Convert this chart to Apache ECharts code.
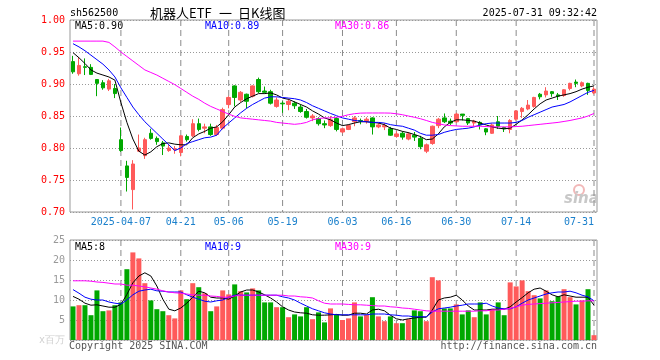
<!DOCTYPE html>
<html><head><meta charset="utf-8">
<script src="https://cdn.jsdelivr.net/npm/echarts@6/dist/echarts.min.js"></script>
<style>html,body{margin:0;padding:0;background:#fff}#c{width:660px;height:360px}</style>
</head><body><div id="c"></div>
<script>
const dates = ['2025-03-25','2025-03-26','2025-03-27','2025-03-28','2025-03-31','2025-04-01','2025-04-02','2025-04-03',
'2025-04-07','2025-04-08','2025-04-09','2025-04-10','2025-04-11','2025-04-14','2025-04-15','2025-04-16','2025-04-17','2025-04-18','2025-04-21',
'2025-04-22','2025-04-23','2025-04-24','2025-04-25','2025-04-28','2025-04-29','2025-04-30','2025-05-06',
'2025-05-07','2025-05-08','2025-05-09','2025-05-12','2025-05-13','2025-05-14','2025-05-15','2025-05-16','2025-05-19',
'2025-05-20','2025-05-21','2025-05-22','2025-05-23','2025-05-26','2025-05-27','2025-05-28','2025-05-29','2025-05-30','2025-06-03',
'2025-06-04','2025-06-05','2025-06-06','2025-06-09','2025-06-10','2025-06-11','2025-06-12','2025-06-13','2025-06-16',
'2025-06-17','2025-06-18','2025-06-19','2025-06-20','2025-06-23','2025-06-24','2025-06-25','2025-06-26','2025-06-27','2025-06-30',
'2025-07-01','2025-07-02','2025-07-03','2025-07-04','2025-07-07','2025-07-08','2025-07-09','2025-07-10','2025-07-11','2025-07-14',
'2025-07-15','2025-07-16','2025-07-17','2025-07-18','2025-07-21','2025-07-22','2025-07-23','2025-07-24','2025-07-25','2025-07-28','2025-07-29','2025-07-30','2025-07-31'];

const opens = [0.935,0.916,0.927,0.926,0.907,0.902,0.892,0.893,0.813,0.772,
0.735,0.795,0.788,0.823,0.815,0.808,0.796,0.797,0.793,0.818,
0.819,0.838,0.831,0.833,0.821,0.831,0.868,0.897,0.875,0.884,
0.881,0.907,0.889,0.888,0.865,0.870,0.868,0.870,0.864,0.857,
0.847,0.846,0.838,0.835,0.846,0.825,0.829,0.841,0.843,0.842,
0.847,0.833,0.833,0.830,0.818,0.823,0.814,0.820,0.815,0.795,
0.807,0.835,0.847,0.842,0.841,0.853,0.846,0.839,0.840,0.830,
0.823,0.841,0.832,0.829,0.845,0.857,0.861,0.865,0.884,0.883,
0.888,0.883,0.882,0.893,0.903,0.897,0.901,0.886];
const closes = [0.919,0.929,0.926,0.915,0.901,0.894,0.905,0.885,0.796,0.754,
0.775,0.800,0.813,0.815,0.810,0.803,0.800,0.799,0.819,0.813,
0.838,0.829,0.833,0.821,0.832,0.860,0.879,0.879,0.887,0.873,
0.897,0.888,0.887,0.870,0.875,0.869,0.873,0.866,0.857,0.848,
0.850,0.838,0.836,0.844,0.829,0.830,0.835,0.847,0.842,0.845,
0.833,0.836,0.835,0.820,0.822,0.817,0.822,0.817,0.802,0.805,
0.834,0.845,0.841,0.839,0.853,0.851,0.839,0.842,0.836,0.825,
0.836,0.834,0.830,0.843,0.858,0.862,0.867,0.879,0.880,0.889,
0.885,0.881,0.891,0.901,0.901,0.902,0.890,0.892];
const lows = [0.916,0.913,0.914,0.914,0.881,0.891,0.889,0.878,0.794,0.732,
0.704,0.794,0.783,0.813,0.805,0.789,0.794,0.791,0.787,0.810,
0.817,0.826,0.823,0.819,0.819,0.829,0.862,0.865,0.872,0.862,
0.879,0.886,0.885,0.868,0.863,0.855,0.859,0.861,0.855,0.846,
0.842,0.835,0.831,0.833,0.826,0.823,0.828,0.834,0.837,0.838,
0.821,0.831,0.828,0.819,0.816,0.813,0.812,0.811,0.798,0.792,
0.805,0.831,0.839,0.836,0.839,0.843,0.836,0.834,0.829,0.820,
0.822,0.830,0.825,0.823,0.843,0.847,0.859,0.863,0.876,0.879,
0.880,0.875,0.880,0.890,0.895,0.895,0.883,0.884];
const highs = [0.944,0.942,0.940,0.931,0.907,0.906,0.908,0.900,0.832,0.780,
0.781,0.821,0.816,0.830,0.818,0.811,0.806,0.803,0.820,0.821,
0.845,0.846,0.838,0.838,0.836,0.863,0.881,0.898,0.889,0.885,
0.898,0.910,0.896,0.891,0.879,0.873,0.877,0.873,0.868,0.861,
0.853,0.848,0.843,0.850,0.848,0.832,0.837,0.850,0.846,0.848,
0.848,0.839,0.839,0.833,0.826,0.826,0.825,0.825,0.819,0.807,
0.835,0.847,0.854,0.846,0.855,0.853,0.847,0.844,0.842,0.831,
0.838,0.850,0.833,0.845,0.859,0.864,0.875,0.880,0.886,0.895,
0.889,0.886,0.892,0.902,0.907,0.904,0.902,0.895];

const ma5 = [0.949,0.941,0.932,0.922,0.917,0.914,0.911,0.906,0.871,0.840,
0.814,0.795,0.789,0.794,0.802,0.807,0.808,0.806,0.805,0.805,
0.816,0.822,0.826,0.831,0.833,0.841,0.852,0.864,0.871,0.877,
0.881,0.885,0.885,0.886,0.883,0.878,0.876,0.872,0.868,0.864,
0.858,0.853,0.847,0.844,0.839,0.835,0.8365,0.839,0.841,0.841,
0.840,0.839,0.8365,0.831,0.829,0.826,0.824,0.821,0.818,0.813,
0.814,0.822,0.833,0.840,0.844,0.844,0.843,0.842,0.839,0.836,
0.833,0.831,0.830,0.831,0.837,0.844,0.852,0.861,0.869,0.875,
0.878,0.881,0.883,0.885,0.888,0.892,0.895,0.897];
const ma10 = [0.963,0.958,0.952,0.945,0.938,0.931,0.922,0.911,0.894,0.879,
0.864,0.852,0.841,0.832,0.823,0.814,0.805,0.796,0.800,0.807,
0.810,0.813,0.816,0.817,0.820,0.831,0.839,0.847,0.855,0.862,
0.868,0.873,0.878,0.880,0.880,0.879,0.878,0.877,0.875,0.871,
0.866,0.862,0.858,0.854,0.8505,0.847,0.845,0.843,0.842,0.841,
0.840,0.840,0.839,0.8365,0.835,0.834,0.831,0.828,0.823,0.820,
0.820,0.821,0.8245,0.827,0.829,0.830,0.831,0.833,0.836,0.838,
0.839,0.839,0.839,0.839,0.840,0.843,0.848,0.852,0.856,0.860,
0.864,0.866,0.868,0.872,0.877,0.882,0.887,0.890];
const ma30 = [0.967,0.967,0.967,0.967,0.967,0.967,0.965,0.958,0.950,0.943,
0.936,0.929,0.922,0.918,0.914,0.909,0.904,0.899,0.893,0.887,
0.881,0.876,0.870,0.865,0.861,0.857,0.853,0.8495,0.847,0.846,
0.845,0.844,0.843,0.842,0.840,0.839,0.838,0.837,0.838,0.840,
0.844,0.846,0.847,0.847,0.848,0.8495,0.852,0.8536,0.8545,0.8547,
0.8547,0.8547,0.8547,0.8545,0.8535,0.852,0.850,0.848,0.8458,0.843,
0.840,0.838,0.836,0.835,0.8345,0.834,0.834,0.834,0.834,0.8335,
0.833,0.833,0.833,0.833,0.8335,0.834,0.835,0.836,0.837,0.838,
0.839,0.840,0.8415,0.843,0.845,0.847,0.850,0.854];

const volumes = [8.4,8.7,8.7,6.2,12.4,7.2,7.4,8.7,9.4,17.7,
21.9,20.4,14.2,9.9,7.7,7.2,6.2,5.4,12.4,10.2,
14.2,13.2,11.7,7.2,8.4,12.4,11.4,13.9,12.2,11.9,
12.9,12.4,9.4,9.4,8.2,8.2,5.7,6.4,5.9,8.2,
5.2,6.9,4.4,7.9,6.4,5.0,5.4,9.4,5.9,6.25,
10.7,5.9,4.7,5.9,4.2,4.2,5.2,7.4,7.2,4.7,
15.7,14.9,7.9,7.9,8.9,6.4,7.4,5.7,9.4,6.4,
7.7,9.4,6.2,14.4,13.4,14.9,12.2,11.2,10.4,12.4,
9.7,10.9,12.7,10.7,8.9,9.9,12.7,1.2];
const volMa5 = [10.9,10.2,9.2,8.7,8.8,8.5,8.2,8.2,8.9,11.4,
14.3,16.0,16.8,16.0,13.5,10.2,7.7,7.3,8.0,9.2,
10.7,12.2,11.8,10.7,10.5,10.5,10.2,11.0,12.0,12.5,
12.5,12.0,11.3,10.5,9.5,8.3,7.5,7.0,6.8,6.7,
6.3,6.2,6.2,6.3,6.4,6.2,6.2,6.7,6.7,6.5,
7.5,7.7,7.3,6.2,5.3,5.0,5.3,5.5,5.7,5.7,
7.5,10.0,10.5,10.7,11.2,10.0,8.5,7.5,7.5,7.5,
7.7,7.7,7.7,8.3,9.5,10.6,11.8,12.7,13.0,12.2,
11.3,10.8,11.3,11.0,10.7,10.7,10.7,8.7];
const volMa10 = [12.6,11.7,10.7,10.2,10.0,10.0,9.5,9.2,9.0,10.0,
11.3,12.2,12.5,12.7,12.3,12.2,12.0,12.0,12.0,11.3,
10.7,10.2,9.7,9.5,9.8,10.0,10.7,11.2,11.2,11.2,
11.2,11.2,11.2,11.2,11.2,10.8,10.5,10.0,9.2,8.5,
7.8,7.3,6.8,6.5,6.3,6.3,6.3,6.3,6.3,6.3,
6.5,6.5,6.5,6.3,6.2,6.0,6.0,5.8,5.8,5.8,
7.0,7.8,8.0,8.2,8.5,8.7,9.0,9.0,9.0,9.2,
8.5,8.0,7.8,7.8,8.3,9.2,10.0,10.5,11.0,11.5,
11.8,12.0,12.0,12.2,11.8,11.2,10.8,9.8];
const volMa30 = [14.8,14.8,14.8,14.7,14.5,14.4,14.2,14.0,14.0,13.7,
13.7,13.5,13.3,13.0,12.7,12.3,12.0,11.8,11.7,11.5,
11.3,11.2,11.2,11.0,10.9,10.7,10.7,11.0,11.2,11.2,
11.2,11.2,11.2,11.2,11.2,11.2,11.0,11.0,10.8,10.7,
10.5,9.8,9.2,9.0,9.0,9.0,8.9,8.8,8.8,8.7,
8.6,8.5,8.5,8.3,8.2,8.0,7.9,7.7,7.5,7.3,
7.2,7.2,7.2,7.2,7.2,7.2,7.2,7.2,7.3,7.3,
7.5,7.5,7.7,7.9,8.3,8.7,8.9,9.0,9.1,9.2,
9.3,9.4,9.5,9.6,9.7,9.7,9.8,9.8];

const labelIdx = [8,18,26,35,45,54,64,74,87];
const priceMin = 0.70, priceMax = 1.00, priceStep = 0.05;
const volMin = 0, volMax = 25, volStep = 5;

const RED = '#ff5a5a', GREEN = '#00a800';
const MONO = "'DejaVu Sans Mono', monospace";
const FONT = '10px ' + MONO;

const chart = echarts.init(document.getElementById('c'), null, {renderer: 'canvas'});
const lineSeries = (name, data, color, xi, yi) => ({
  name, type: 'line', data, xAxisIndex: xi, yAxisIndex: yi, showSymbol: false, symbol: 'none',
  lineStyle: {color, width: 1}, silent: true, z: 5
});
function txt(x, y, text, color, align) {
  return {type: 'text', x, y, silent: true,
    style: {text, fill: color, font: FONT, textAlign: align || 'left', textVerticalAlign: 'middle'}};
}
function dashFill(h) {
  const stops = [];
  for (let y = 0; y < h; y += 10) {
    const a = y / h, b = Math.min(1, (y + 6) / h), c = Math.min(1, (y + 10) / h);
    stops.push({offset: a, color: '#8a8a8a'}, {offset: b, color: '#8a8a8a'},
               {offset: b, color: 'rgba(255,255,255,0)'}, {offset: c, color: 'rgba(255,255,255,0)'});
  }
  return new echarts.graphic.LinearGradient(0, 0, 0, 1, stops);
}
function dateGridBars(xi, yi, top, h) {
  return {type: 'bar', xAxisIndex: xi, yAxisIndex: yi, barWidth: 1, silent: true, z: 1,
    data: dates.map((d, i) => labelIdx.indexOf(i) >= 0 ? top : '-'),
    itemStyle: {color: dashFill(h)}};
}
const hiddenCat = (gridIndex) => ({type: 'category', gridIndex, data: dates, boundaryGap: true, show: false});

chart.setOption({
  animation: false,
  backgroundColor: '#fff',
  grid: [
    {left: 70, right: 63, top: 20, height: 192, show: true, borderColor: '#999', borderWidth: 1},
    {left: 70, right: 63, top: 240, height: 100, show: true, borderColor: '#999', borderWidth: 1}
  ],
  xAxis: [
    {type: 'category', gridIndex: 0, data: dates, boundaryGap: true,
     axisLine: {show: false}, axisTick: {show: false}, splitLine: {show: false},
     axisLabel: {show: true, color: '#1b80cc', fontFamily: MONO, fontSize: 10, margin: 5,
       interval: (idx) => labelIdx.indexOf(idx) >= 0,
       alignMaxLabel: 'right',
       formatter: (v, idx) => idx === labelIdx[0] ? v : v.slice(5)}},
    {type: 'category', gridIndex: 1, data: dates, boundaryGap: true,
     axisLine: {show: false}, axisTick: {show: false}, axisLabel: {show: false}, splitLine: {show: false}},
    hiddenCat(0),
    hiddenCat(1)
  ],
  yAxis: [
    {type: 'value', gridIndex: 0, min: priceMin, max: priceMax, interval: priceStep, scale: true,
     axisLine: {show: false}, axisTick: {show: false},
     axisLabel: {color: '#ff0000', fontFamily: MONO, fontSize: 10, margin: 5, formatter: v => v.toFixed(2)},
     splitLine: {show: true, lineStyle: {type: [1,2], color: '#999', width: 1}}},
    {type: 'value', gridIndex: 1, min: volMin, max: volMax, interval: volStep,
     axisLine: {show: false}, axisTick: {show: false},
     axisLabel: {color: '#999', fontFamily: MONO, fontSize: 10, margin: 5,
       formatter: v => v === 0 ? '{u|x百万}' : String(v),
       rich: {u: {color: '#d0d0d0', fontSize: 10, fontFamily: MONO}}},
     splitLine: {show: true, lineStyle: {type: [1,2], color: '#999', width: 1}}}
  ],
  series: [
    dateGridBars(2, 0, priceMax, 192),
    dateGridBars(3, 1, volMax, 100),
    {type: 'candlestick', xAxisIndex: 0, yAxisIndex: 0, barWidth: 4,
     data: dates.map((d, i) => [opens[i], closes[i], lows[i], highs[i]]),
     itemStyle: {color: RED, color0: GREEN, borderColor: RED, borderColor0: GREEN, borderWidth: 1}, z: 3},
    lineSeries('MA5', ma5, '#000000', 0, 0),
    lineSeries('MA10', ma10, '#0000ff', 0, 0),
    lineSeries('MA30', ma30, '#ff00ff', 0, 0),
    {type: 'bar', xAxisIndex: 1, yAxisIndex: 1, barWidth: 5, data: volumes,
     itemStyle: {color: p => closes[p.dataIndex] >= opens[p.dataIndex] ? RED : GREEN}, z: 3},
    lineSeries('VMA5', volMa5, '#000000', 1, 1),
    lineSeries('VMA10', volMa10, '#0000ff', 1, 1),
    lineSeries('VMA30', volMa30, '#ff00ff', 1, 1)
  ],
  graphic: [
    txt(70, 13, 'sh562500', '#000'),
    {type: 'text', x: 150, y: 13, silent: true, style: {text: '机器人ETF', fill: '#000', font: "13px 'Noto Sans CJK SC'", textVerticalAlign: 'middle'}},
    {type: 'text', x: 219, y: 13, silent: true, style: {text: '一', fill: '#000', font: "13px 'Noto Sans CJK SC'", textVerticalAlign: 'middle'}},
    {type: 'text', x: 238, y: 13, silent: true, style: {text: '日K线图', fill: '#000', font: "13px 'Noto Sans CJK SC'", textVerticalAlign: 'middle'}},
    txt(597, 13, '2025-07-31 09:32:42', '#000', 'right'),
    txt(75, 26, 'MA5:0.90', '#000'),
    txt(205, 26, 'MA10:0.89', '#0000ff'),
    txt(335, 26, 'MA30:0.86', '#ff00ff'),
    txt(75, 247, 'MA5:8', '#000'),
    txt(205, 247, 'MA10:9', '#0000ff'),
    txt(335, 247, 'MA30:9', '#ff00ff'),
    txt(69, 346, 'Copyright 2025 SINA.COM', '#555'),
    txt(597, 346, 'http://finance.sina.com.cn', '#555', 'right'),
    {type: 'circle', shape: {cx: 579, cy: 190, r: 5}, silent: true, style: {fill: 'none', stroke: '#f2b8b8', lineWidth: 2}},
    {type: 'text', x: 564, y: 199, silent: true, style: {text: 'sina', fill: '#c8c8c8', font: "italic bold 15px 'DejaVu Sans'", textVerticalAlign: 'middle'}}
  ]
});
</script></body></html>
